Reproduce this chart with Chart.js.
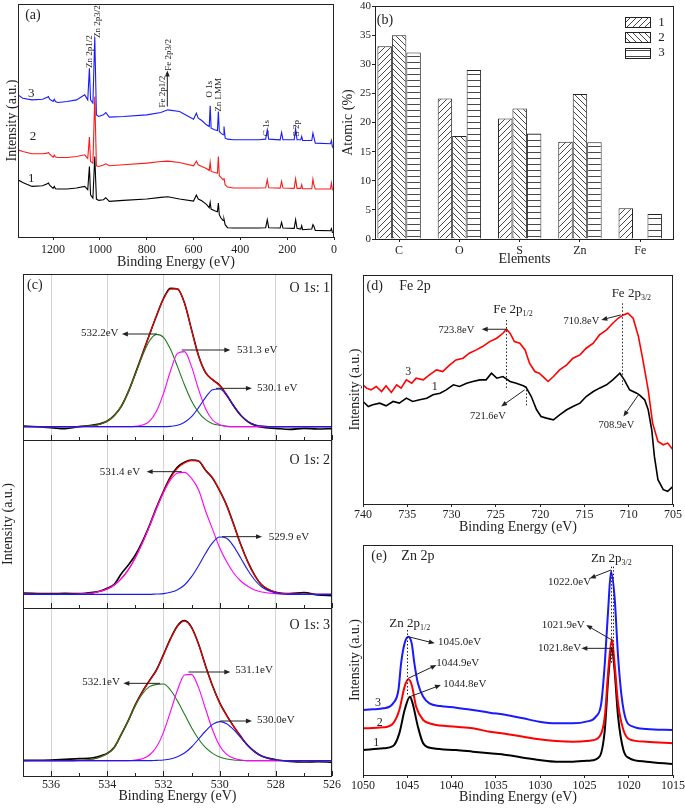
<!DOCTYPE html>
<html>
<head>
<meta charset="utf-8">
<script src="https://cdn.jsdelivr.net/npm/chart.js@4.4.0/dist/chart.umd.min.js"></script>
<style>
html, body { margin: 0; padding: 0; background: #fff; }
#wrap { position: relative; width: 685px; height: 809px; overflow: hidden; }
.pnl { position: absolute; }
</style>
</head>
<body>
<div id="wrap"></div>
<script>
// (a) survey spectra, binding energy (eV) and intensity (a.u.)
const surveyX = [1350, 1330, 1290, 1245, 1225, 1220, 1215, 1200, 1195, 1190, 1180, 1140, 1100, 1065, 1052, 1045, 1040, 1030, 1022, 1015, 1005, 985, 975, 960, 900, 800, 740, 710, 660, 600, 588, 580, 565, 545, 533, 529, 525, 510, 498, 494, 490, 483, 474, 470, 465, 455, 430, 320, 292, 285, 279, 230, 224, 218, 170, 164, 158, 142, 138, 134, 95, 90, 86, 80, 15, 11, 7, 0];
const survey1 = [172, 164, 152, 154, 160, 162, 156, 146, 152, 145, 144, 144, 147, 152, 142, 212, 127, 117, 242, 114, 110, 112, 118, 107, 110, 114, 119, 121, 114, 108, 126, 114, 109, 98, 88, 104, 84, 79, 76, 102, 67, 57, 50, 54, 37, 28, 27, 27, 28, 52, 28, 27, 44, 27, 26, 52, 26, 24, 34, 22, 24, 37, 32, 20, 19, 25, 14, 12];
const survey2 = [262, 257, 250, 250, 252, 254, 249, 240, 246, 240, 239, 239, 242, 247, 236, 300, 227, 222, 422, 214, 212, 216, 220, 214, 217, 222, 227, 228, 224, 214, 228, 217, 212, 206, 200, 224, 197, 194, 192, 242, 184, 179, 172, 177, 157, 150, 147, 147, 148, 172, 148, 147, 167, 147, 146, 175, 146, 146, 157, 145, 145, 174, 157, 144, 144, 162, 142, 140];
const survey3 = [427, 417, 412, 414, 420, 422, 414, 407, 414, 407, 404, 407, 412, 427, 412, 507, 412, 402, 600, 367, 362, 367, 374, 360, 362, 367, 374, 382, 377, 354, 372, 357, 350, 337, 332, 394, 327, 322, 320, 377, 317, 312, 307, 332, 297, 294, 292, 292, 294, 322, 294, 292, 314, 292, 292, 325, 292, 292, 302, 290, 290, 312, 300, 282, 280, 290, 272, 264];
const surveyTicks = [1200, 1000, 800, 600, 400, 200, 0];

// (b) atomic percentages
const elements = ['C', 'O', 'S', 'Zn', 'Fe'];
const atomic1 = [33.1, 24.1, 20.7, 16.7, 5.3];
const atomic2 = [35.0, 17.7, 22.4, 24.9, null];
const atomic3 = [32.0, 29.0, 18.1, 16.6, 4.3];
const atomicTicks = [0, 5, 10, 15, 20, 25, 30, 35, 40];

// (c) O 1s fits
const o1sX = [537, 536, 535.5, 535, 534.5, 534.25, 534, 533.75, 533.5, 533.25, 533, 532.75, 532.5, 532.25, 532, 531.75, 531.5, 531.25, 531, 530.75, 530.5, 530.25, 530, 529.75, 529.5, 529.25, 529, 528.75, 528.5, 528, 527.5, 527, 526.5, 526];
const o1sTicks = [536, 534, 532, 530, 528, 526];
const o1sMinor = [537, 535, 533, 531, 529, 527];
const o1Raw = [2, -3, -6, 0, 5, 9, 17, 34, 61, 105, 160, 218, 276, 332, 384, 415, 413, 371, 291, 213, 162, 141, 124, 95, 62, 34, 15, 4, -2, -5, -8, -5, -7, -6];
const o1Fit = [0, 0, 0, 0, 3, 7, 16, 33, 62, 104, 158, 217, 275, 333, 383, 413, 414, 370, 290, 212, 163, 140, 123, 96, 63, 35, 16, 6, 2, 0, 0, 0, 0, 0];
const o1Green = [0, 0, 0, 0, 3, 7, 16, 33, 62, 104, 157, 212, 257, 277, 268, 232, 180, 125, 77, 43, 21, 9, 4, 1, 0, 0, 0, 0, 0, 0, 0, 0, 0, 0];
const o1Magenta = [0, 0, 0, 0, 0, 0, 0, 0, 0, 0, 1, 5, 16, 46, 99, 167, 220, 225, 180, 112, 54, 20, 6, 1, 0, 0, 0, 0, 0, 0, 0, 0, 0, 0];
const o1Blue = [0, 0, 0, 0, 0, 0, 0, 0, 0, 0, 0, 0, 0, 0, 0, 1, 4, 13, 30, 57, 88, 111, 113, 94, 63, 35, 16, 6, 2, 0, 0, 0, 0, 0];
const o2Raw = [4, 2, 3, 2, 6, 10, 18, 30, 62, 88, 118, 158, 206, 260, 309, 352, 382, 396, 403, 400, 372, 348, 311, 267, 210, 150, 98, 57, 28, 6, 2, 5, -2, -4];
const o2Fit = [0, 0, 0, 1, 4, 9, 16, 28, 47, 74, 110, 154, 204, 258, 307, 349, 378, 394, 401, 400, 373, 350, 312, 266, 208, 149, 97, 56, 29, 6, 1, 0, 0, 0];
const o2Magenta = [0, 0, 0, 1, 4, 9, 16, 28, 47, 74, 110, 154, 204, 257, 305, 343, 364, 366, 348, 314, 250, 195, 140, 98, 64, 40, 24, 13, 7, 2, 1, 0, 0, 0];
const o2Blue = [0, 0, 0, 0, 0, 0, 0, 0, 0, 0, 0, 0, 0, 1, 2, 6, 14, 28, 53, 86, 123, 155, 172, 168, 144, 109, 73, 43, 22, 4, 0, 0, 0, 0];
const o3Raw = [1, 2, 4, 6, 9, 14, 22, 40, 79, 121, 168, 207, 240, 272, 318, 366, 405, 420, 400, 350, 284, 224, 174, 136, 103, 73, 46, 27, 14, 3, -2, -4, -3, -5];
const o3Fit = [0, 0, 0, 1, 5, 11, 21, 39, 80, 120, 167, 206, 239, 271, 317, 364, 403, 419, 399, 349, 283, 223, 173, 135, 102, 72, 45, 26, 13, 2, 0, 0, 0, 0];
const o3Green = [0, 0, 0, 1, 5, 11, 21, 39, 80, 120, 165, 200, 222, 229, 230, 212, 179, 139, 99, 65, 39, 22, 11, 5, 2, 1, 0, 0, 0, 0, 0, 0, 0, 0];
const o3Magenta = [0, 0, 0, 0, 0, 0, 0, 0, 0, 0, 2, 6, 17, 41, 85, 147, 212, 257, 259, 219, 155, 92, 45, 19, 7, 2, 0, 0, 0, 0, 0, 0, 0, 0];
const o3Blue = [0, 0, 0, 0, 0, 0, 0, 0, 0, 0, 0, 0, 0, 1, 2, 5, 12, 23, 41, 65, 89, 109, 117, 111, 93, 69, 45, 26, 13, 2, 0, 0, 0, 0];

// (d) Fe 2p
const feX1 = [740, 739.4, 738.9, 738.1, 737.4, 736.6, 735.9, 735.1, 734.4, 733.6, 732.8, 732.1, 731.3, 730.6, 729.8, 729.1, 728.3, 727.6, 726.8, 726.1, 725.5, 724.9, 724.2, 723.4, 722.7, 721.9, 721.6, 721.0, 720.4, 719.9, 719.3, 718.5, 717.8, 717.0, 716.3, 715.5, 714.8, 714.0, 713.3, 712.5, 711.8, 711.0, 710.5, 709.9, 709.1, 708.8, 708.2, 707.8, 707.4, 707.1, 706.7, 706.1, 705.6, 705];
const feY1 = [308, 293, 298, 303, 295, 308, 303, 318, 308, 313, 318, 328, 333, 343, 358, 353, 363, 368, 373, 373, 393, 378, 383, 368, 363, 355, 351, 323, 283, 263, 258, 253, 268, 283, 293, 303, 323, 338, 348, 358, 373, 393, 373, 343, 333, 328, 313, 283, 223, 143, 73, 43, 38, 53];
const feX3 = [740, 739.6, 739.1, 738.5, 737.9, 737.4, 736.8, 736.2, 735.7, 735.1, 734.5, 734.0, 733.2, 732.5, 731.7, 731.0, 730.2, 729.5, 728.7, 728.0, 727.2, 726.5, 725.7, 724.9, 724.2, 723.8, 723.4, 722.9, 722.3, 721.7, 721.2, 720.6, 720.1, 719.5, 719.1, 718.5, 717.8, 717.0, 716.3, 715.5, 714.8, 714.0, 713.3, 712.5, 711.8, 711.2, 710.6, 710.1, 709.5, 708.9, 708.4, 707.8, 707.3, 706.7, 706.1, 705.6, 705];
const feY3 = [358, 348, 343, 353, 338, 355, 335, 358, 348, 373, 363, 378, 373, 388, 403, 398, 418, 433, 438, 453, 463, 473, 488, 498, 513, 525, 513, 488, 483, 463, 423, 398, 393, 378, 368, 383, 403, 418, 438, 448, 468, 483, 508, 523, 543, 558, 568, 573, 558, 503, 433, 343, 243, 188, 178, 183, 163];
const feTicks = [740, 735, 730, 725, 720, 715, 710, 705];

// (e) Zn 2p
const znX1 = [1050, 1047.7, 1046.6, 1045.9, 1045.3, 1044.7, 1044.4, 1043.8, 1043.2, 1042.1, 1039.5, 1037.6, 1035.7, 1033.8, 1031.9, 1030.1, 1028.2, 1026.3, 1024.4, 1023.3, 1022.7, 1022.3, 1021.9, 1021.6, 1021.2, 1020.6, 1019.9, 1018.0, 1015];
const znY1 = [75, 80, 87, 125, 195, 235, 215, 145, 95, 80, 75, 70, 65, 60, 52, 45, 40, 40, 43, 55, 135, 295, 380, 315, 175, 75, 50, 40, 33];
const znX2 = [1050, 1047.7, 1046.6, 1045.9, 1045.3, 1044.9, 1044.5, 1044.0, 1043.2, 1042.1, 1039.5, 1037.6, 1035.7, 1033.8, 1031.9, 1030.1, 1028.2, 1026.3, 1024.4, 1023.3, 1022.7, 1022.3, 1021.9, 1021.6, 1021.2, 1020.6, 1019.9, 1018.0, 1015];
const znY2 = [140, 143, 155, 195, 265, 287, 270, 205, 165, 152, 145, 140, 130, 123, 115, 107, 102, 100, 103, 115, 175, 315, 407, 335, 215, 135, 107, 100, 95];
const znX3 = [1050, 1048.9, 1047.7, 1046.6, 1046.0, 1045.7, 1045.3, 1044.9, 1044.5, 1044.2, 1043.8, 1043.2, 1042.5, 1041.3, 1039.5, 1037.6, 1035.7, 1033.8, 1031.9, 1030.1, 1028.2, 1026.3, 1024.8, 1023.7, 1023.1, 1022.7, 1022.3, 1022.0, 1021.6, 1021.2, 1020.8, 1020.3, 1019.5, 1018.0, 1015];
const znY3 = [195, 197, 200, 215, 255, 335, 395, 415, 395, 335, 275, 235, 215, 207, 202, 195, 187, 180, 170, 160, 155, 155, 160, 175, 215, 335, 505, 610, 535, 355, 235, 165, 145, 138, 135];
const znTicks = [1050, 1045, 1040, 1035, 1030, 1025, 1020, 1015];

const FONT = '"Liberation Serif", "Times New Roman", serif';
Chart.defaults.font.family = FONT;
Chart.defaults.color = '#222';

function panel(left, top, w, h) {
  const d = document.createElement('div');
  d.className = 'pnl';
  d.style.cssText = 'left:' + left + 'px;top:' + top + 'px;width:' + w + 'px;height:' + h + 'px';
  const c = document.createElement('canvas');
  d.appendChild(c);
  document.getElementById('wrap').appendChild(d);
  return c;
}

function line(xs, ys, color, w, smooth) {
  return {
    data: xs.map((x, i) => ({ x: x, y: ys[i] })),
    borderColor: color, borderWidth: w, pointRadius: 0, fill: false,
    tension: 0, cubicInterpolationMode: smooth ? 'monotone' : 'default'
  };
}

function opts(p) {
  const x = p.x, y = p.y;
  return {
    responsive: true, maintainAspectRatio: false, animation: false,
    layout: { padding: { left: 0, top: p.top || 0, right: p.right || 0, bottom: 0 } },
    plugins: { legend: { display: false }, tooltip: { enabled: false } },
    scales: {
      x: {
        type: 'linear', min: x.min, max: x.max, reverse: !!x.reverse, offset: false,
        afterBuildTicks: s => { s.ticks = x.ticks.map(v => ({ value: v })); },
        afterFit: s => { s.height = x.height; s.paddingLeft = 0; s.paddingRight = 0; },
        ticks: { display: x.labels !== false, font: { size: 12 }, padding: x.labelPad || 0, maxRotation: 0, autoSkip: false,
                 callback: x.fmt || (v => String(v)) },
        grid: { display: true, offset: false, drawOnChartArea: !!x.gridColor, color: x.gridColor || '#222',
                drawTicks: !!x.tickLen, tickLength: x.tickLen || 0, tickColor: '#222' },
        border: { display: false },
        title: { display: !!x.title, text: x.title || '', font: { size: 14 }, padding: { top: 0, bottom: x.titlePad || 0 } }
      },
      y: {
        min: y.min, max: y.max,
        afterBuildTicks: y.ticks ? (s => { s.ticks = y.ticks.map(v => ({ value: v })); }) : undefined,
        afterFit: s => { s.width = y.width; s.paddingTop = 0; s.paddingBottom = 0; },
        ticks: { display: !!y.ticks, font: { size: 11 }, padding: 1, autoSkip: false },
        grid: { display: !!y.ticks, drawOnChartArea: false, drawTicks: true, tickLength: 3, tickColor: '#222' },
        border: { display: false },
        title: { display: !!y.title, text: y.title || '', font: { size: 14 }, padding: { top: y.titlePad || 0, bottom: 0 } }
      }
    }
  };
}

function drawLabel(ctx, n, x, y) {
  const size = n.size || 11;
  const ss = Math.round(size * 0.62);
  ctx.save();
  ctx.translate(x, y);
  if (n.rot) ctx.rotate(-Math.PI / 2);
  ctx.fillStyle = '#222';
  ctx.textBaseline = 'middle';
  ctx.textAlign = 'left';
  ctx.font = size + 'px ' + FONT;
  const w1 = ctx.measureText(n.s).width;
  let w2 = 0;
  if (n.sub) { ctx.font = ss + 'px ' + FONT; w2 = ctx.measureText(n.sub).width; }
  const w = w1 + w2;
  const x0 = n.align === 'left' ? 0 : n.align === 'right' ? -w : -w / 2;
  ctx.font = size + 'px ' + FONT;
  ctx.fillText(n.s, x0, 0);
  if (n.sub) { ctx.font = ss + 'px ' + FONT; ctx.fillText(n.sub, x0 + w1, size * 0.32); }
  ctx.restore();
}

function drawArrow(ctx, x1, y1, x2, y2) {
  const ang = Math.atan2(y2 - y1, x2 - x1), L = 6, H = 2.4;
  const c = Math.cos(ang), s = Math.sin(ang);
  ctx.beginPath(); ctx.moveTo(x1, y1); ctx.lineTo(x2 - c * L * 0.7, y2 - s * L * 0.7); ctx.stroke();
  ctx.beginPath(); ctx.moveTo(x2, y2);
  ctx.lineTo(x2 - L * c + H * s, y2 - L * s - H * c);
  ctx.lineTo(x2 - L * c - H * s, y2 - L * s + H * c);
  ctx.closePath(); ctx.fill();
}

// frame + notes drawn on top of the data
function deco(items, extra) {
  return {
    id: 'deco',
    afterDatasetsDraw(chart) {
      const ctx = chart.ctx, sx = chart.scales.x, sy = chart.scales.y;
      const X = v => sx.getPixelForValue(v), Y = v => sy.getPixelForValue(v);
      const a = chart.chartArea;
      const L = Math.round(a.left), T = Math.round(a.top), R = Math.round(a.right), B = Math.round(a.bottom);
      ctx.save();
      ctx.strokeStyle = '#222'; ctx.fillStyle = '#222'; ctx.lineWidth = 1;
      if (extra && extra.inTicks) {
        ctx.beginPath();
        extra.inTicks.major.forEach(v => { const px = Math.round(X(v)) + 0.5; ctx.moveTo(px, B); ctx.lineTo(px, B - 5); });
        extra.inTicks.minor.forEach(v => { const px = Math.round(X(v)) + 0.5; ctx.moveTo(px, B); ctx.lineTo(px, B - 3); });
        ctx.stroke();
      }
      ctx.strokeRect(L + 0.5, T + 0.5, R - L - 1, B - T);
      (items || []).forEach(n => {
        if (n.a) {
          drawArrow(ctx, X(n.a[0]), Y(n.a[1]), X(n.a[2]), Y(n.a[3]));
        } else if (n.d) {
          ctx.save(); ctx.setLineDash([1.5, 2]); ctx.beginPath();
          const px = Math.round(X(n.d[0])) + 0.5;
          ctx.moveTo(px, Y(n.d[1])); ctx.lineTo(px, Y(n.d[2])); ctx.stroke(); ctx.restore();
        } else if (n.box) {
          const px = Math.round(X(n.x)) + 0.5, py = Math.round(Y(n.y) - 5) + 0.5;
          ctx.fillStyle = n.box; ctx.fillRect(px, py, 25, 10); ctx.strokeRect(px, py, 25, 10);
          ctx.fillStyle = '#222';
        } else {
          drawLabel(ctx, n, X(n.x), Y(n.y));
        }
      });
      ctx.restore();
    }
  };
}

// ---------- (a) ----------
new Chart(panel(0, 0, 342, 272), {
  type: 'line',
  data: { datasets: [
    line(surveyX, survey3, '#1a1aff', 1.1),
    line(surveyX, survey2, '#ff1a1a', 1.1),
    line(surveyX, survey1, '#000', 1.1)
  ] },
  options: opts({
    top: 4, right: 8,
    x: { min: 0, max: 1350, reverse: true, ticks: surveyTicks, tickLen: 3, labelPad: 3, height: 35, title: 'Binding Energy (eV)', titlePad: 1.5 },
    y: { min: 0, max: 700, width: 18, title: 'Intensity (a.u.)', titlePad: 3.6 }
  }),
  plugins: [deco([
    { s: '(a)', x: 1286, y: 667, size: 14 },
    { s: '3', x: 1293, y: 432, size: 13 },
    { s: '2', x: 1286, y: 302, size: 13 },
    { s: '1', x: 1293, y: 177, size: 13 },
    { s: 'Zn 2p1/2', x: 1046, y: 557, size: 9, rot: true },
    { s: 'Zn 2p3/2', x: 1010, y: 647, size: 9, rot: true },
    { s: 'Fe 2p1/2', x: 733, y: 437, size: 9, rot: true },
    { s: 'Fe 2p3/2', x: 706, y: 547, size: 9, rot: true },
    { a: [712, 392, 712, 500] },
    { s: 'O 1s', x: 533, y: 444, size: 9, rot: true },
    { s: 'Zn LMM', x: 491, y: 427, size: 9, rot: true },
    { s: 'C 1s', x: 286, y: 327, size: 9, rot: true },
    { s: 'S 2p', x: 161, y: 327, size: 9, rot: true }
  ])]
});

// ---------- (b) ----------
const canvasB = panel(342, 0, 343, 272);
function hatch(kind) {
  const t = document.createElement('canvas');
  t.width = 6; t.height = 6;
  const g = t.getContext('2d');
  g.fillStyle = '#fff'; g.fillRect(0, 0, 6, 6);
  g.strokeStyle = '#333'; g.lineWidth = 0.9;
  g.beginPath();
  if (kind === '/') {
    g.moveTo(0, 6); g.lineTo(6, 0); g.moveTo(-1, 1); g.lineTo(1, -1); g.moveTo(5, 7); g.lineTo(7, 5);
  } else if (kind === '\\') {
    g.moveTo(0, 0); g.lineTo(6, 6); g.moveTo(-1, 5); g.lineTo(1, 7); g.moveTo(5, -1); g.lineTo(7, 1);
  } else {
    g.moveTo(0, 2.5); g.lineTo(6, 2.5);
  }
  g.stroke();
  return canvasB.getContext('2d').createPattern(t, 'repeat');
}
const pats = [hatch('/'), hatch('\\'), hatch('-')];
const barSet = (vals, k) => ({
  data: vals.map((v, i) => ({ x: i, y: v })),
  backgroundColor: pats[k], borderColor: '#222', borderWidth: 1,
  barPercentage: 1, categoryPercentage: 0.72
});
const optB = opts({
  top: 6, right: 11,
  x: { min: -0.4, max: 4.56, ticks: [0, 1, 2, 3, 4], tickLen: 3, labelPad: 2, height: 33, fmt: v => elements[Math.round(v)],
       title: 'Elements', titlePad: 4 },
  y: { min: 0, max: 40, width: 33, ticks: atomicTicks, title: 'Atomic (%)', titlePad: -2 }
});
new Chart(canvasB, {
  type: 'bar',
  data: { datasets: [barSet(atomic1, 0), barSet(atomic2, 1), barSet(atomic3, 2)] },
  options: optB,
  plugins: [deco([
    { s: '(b)', x: -0.235, y: 37.5, size: 14 },
    { box: pats[0], x: 3.75, y: 37.2 }, { s: '1', x: 4.3, y: 37.2, size: 13, align: 'left' },
    { box: pats[1], x: 3.75, y: 34.6 }, { s: '2', x: 4.3, y: 34.6, size: 13, align: 'left' },
    { box: pats[2], x: 3.75, y: 32.0 }, { s: '3', x: 4.3, y: 32.0, size: 13, align: 'left' }
  ])]
});

// ---------- (c) ----------
const inTicks = { inTicks: { major: o1sTicks, minor: o1sMinor } };
function oChart(top, h, xh, ymin, ymax, sets, notes, last, ytitle) {
  new Chart(panel(0, top, 342, h), {
    type: 'line',
    data: { datasets: sets },
    options: opts({
      top: last ? 0 : (top === 272 ? 2 : 0), right: 10,
      x: { min: 526, max: 537, reverse: true, ticks: o1sTicks, labels: last, gridColor: '#d4d4d4', labelPad: 2, height: xh,
           title: last ? 'Binding Energy (eV)' : '', titlePad: 4.5 },
      y: { min: ymin, max: ymax, width: 23, title: ytitle, titlePad: 0 }
    }),
    plugins: [deco(notes, inTicks)]
  });
}
oChart(272, 168, 0, -40, 458, [
  line(o1sX, o1Blue, '#1a1aee', 1.1, true),
  line(o1sX, o1Magenta, '#ff00ff', 1.1, true),
  line(o1sX, o1Green, '#1e7b1e', 1.1, true),
  line(o1sX, o1Fit, '#ff0000', 1.1, true),
  line(o1sX, o1Raw, '#000', 1.6, true)
], [
  { s: '(c)', x: 536.58, y: 425, size: 14 },
  { s: 'O 1s: 1', x: 526.07, y: 415, size: 14, align: 'right' },
  { s: '532.2eV', x: 533.6, y: 280, align: 'right' }, { a: [532.24, 278, 533.48, 278] },
  { s: '531.3 eV', x: 529.38, y: 230, align: 'left' }, { a: [531.35, 230, 529.62, 230] },
  { s: '530.1 eV', x: 528.67, y: 115, align: 'left' }, { a: [530.13, 115, 528.85, 115] }
], false, '');
oChart(440, 168, 0, -41, 463, [
  line(o1sX, o2Blue, '#1a1aee', 1.1, true),
  line(o1sX, o2Magenta, '#ff00ff', 1.1, true),
  line(o1sX, o2Fit, '#ff0000', 1.1, true),
  line(o1sX, o2Raw, '#000', 1.6, true)
], [
  { s: 'O 1s: 2', x: 526.07, y: 403, size: 14, align: 'right' },
  { s: '531.4 eV', x: 532.83, y: 368, align: 'right' }, { a: [531.35, 368, 532.6, 368] },
  { s: '529.9 eV', x: 528.25, y: 173, align: 'left' }, { a: [529.92, 173, 528.49, 173] }
], false, 'Intensity (a.u.)');
oChart(608, 201, 33, -46, 458, [
  line(o1sX, o3Blue, '#1a1aee', 1.1, true),
  line(o1sX, o3Magenta, '#ff00ff', 1.1, true),
  line(o1sX, o3Green, '#1e7b1e', 1.1, true),
  line(o1sX, o3Fit, '#ff0000', 1.1, true),
  line(o1sX, o3Raw, '#000', 1.6, true)
], [
  { s: 'O 1s: 3', x: 526.07, y: 407, size: 14, align: 'right' },
  { s: '532.1eV', x: 533.55, y: 237, align: 'right' }, { a: [532.12, 232, 533.43, 232] },
  { s: '531.1eV', x: 529.44, y: 272, align: 'left' }, { a: [531.11, 266, 529.62, 266] },
  { s: '530.0eV', x: 528.67, y: 122, align: 'left' }, { a: [529.98, 119, 528.85, 119] }
], true, '');

// ---------- (d) ----------
new Chart(panel(342, 272, 343, 265), {
  type: 'line',
  data: { datasets: [
    line(feX3, feY3, '#ff0000', 1.6),
    line(feX1, feY1, '#000', 1.6)
  ] },
  options: opts({
    top: 3, right: 12,
    x: { min: 705, max: 740, reverse: true, ticks: feTicks, tickLen: 3, labelPad: 1, height: 33, title: 'Binding Energy (eV)', titlePad: 1.5 },
    y: { min: 0, max: 688, width: 21, title: 'Intensity (a.u.)', titlePad: 4.6 }
  }),
  plugins: [deco([
    { s: '(d)', x: 739.6, y: 653, size: 14, align: 'left' },
    { s: 'Fe 2p', x: 735.9, y: 653, size: 14, align: 'left' },
    { s: 'Fe 2p', sub: '1/2', x: 723.06, y: 585, size: 13 },
    { s: 'Fe 2p', sub: '3/2', x: 709.7, y: 633, size: 13 },
    { d: [723.8, 553, 343] }, { d: [721.6, 343, 293] }, { d: [710.8, 603, 358] },
    { s: '723.8eV', x: 729.46, y: 523, size: 10.5 }, { a: [723.8, 525, 726.6, 525] },
    { s: '710.8eV', x: 715.35, y: 548, size: 10.5 }, { a: [710.9, 568, 713.1, 553] },
    { s: '721.6eV', x: 725.9, y: 263, size: 10.5 }, { a: [721.75, 343, 724.4, 293] },
    { s: '708.9eV', x: 711.4, y: 238, size: 10.5 }, { a: [708.9, 328, 710.6, 263] },
    { s: '3', x: 734.9, y: 398, size: 12 },
    { s: '1', x: 731.9, y: 351, size: 12 }
  ])]
});

// ---------- (e) ----------
new Chart(panel(342, 537, 343, 272), {
  type: 'line',
  data: { datasets: [
    line(znX3, znY3, '#1a1aff', 2, true),
    line(znX2, znY2, '#ff0000', 2, true),
    line(znX1, znY1, '#000', 2, true)
  ] },
  options: opts({
    top: 8, right: 12,
    x: { min: 1015, max: 1050, reverse: true, ticks: znTicks, tickLen: 3, labelPad: 1, height: 34, title: 'Binding Energy (eV)', titlePad: 3.3 },
    y: { min: 0, max: 690, width: 21, title: 'Intensity (a.u.)', titlePad: 4.6 }
  }),
  plugins: [deco([
    { s: '(e)', x: 1049.06, y: 655, size: 14, align: 'left' },
    { s: 'Zn 2p', x: 1045.67, y: 655, size: 14, align: 'left' },
    { s: 'Zn 2p', sub: '3/2', x: 1021.96, y: 650, size: 13 },
    { s: 'Zn 2p', sub: '1/2', x: 1044.73, y: 455, size: 13 },
    { d: [1045.0, 435, 235] }, { d: [1022.05, 625, 335] }, { d: [1021.75, 625, 335] },
    { s: '1022.0eV', x: 1026.67, y: 580 }, { a: [1022.0, 615, 1024.4, 590] },
    { s: '1021.9eV', x: 1027.4, y: 450 }, { a: [1021.9, 405, 1024.8, 450] },
    { s: '1021.8eV', x: 1027.8, y: 380 }, { a: [1021.8, 380, 1025.35, 380] },
    { s: '1045.0eV', x: 1039.1, y: 400 }, { a: [1044.9, 415, 1041.9, 395] },
    { s: '1044.9eV', x: 1039.3, y: 335 }, { a: [1044.9, 290, 1041.7, 330] },
    { s: '1044.8eV', x: 1038.5, y: 273 }, { a: [1044.7, 235, 1041.2, 270] },
    { s: '3', x: 1048.3, y: 215, size: 12 },
    { s: '2', x: 1048.1, y: 157, size: 12 },
    { s: '1', x: 1048.5, y: 95, size: 12 }
  ])]
});
</script>
</body>
</html>
